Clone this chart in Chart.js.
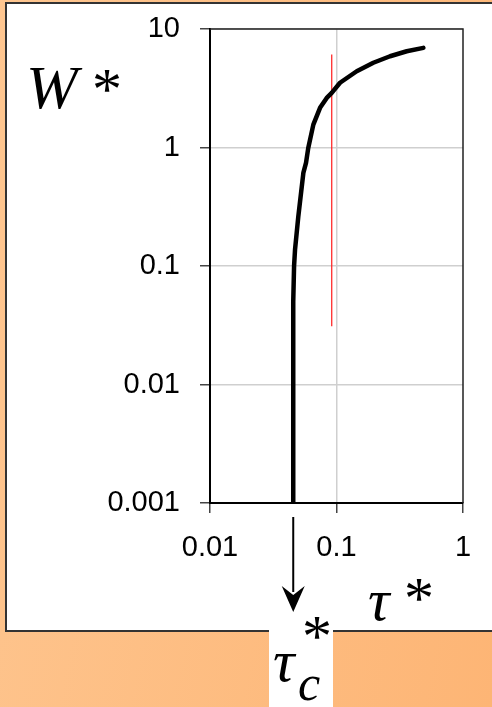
<!DOCTYPE html>
<html>
<head>
<meta charset="utf-8">
<script src="https://cdn.jsdelivr.net/npm/chart.js@4"></script>
<style>
  html, body { margin: 0; padding: 0; }
  body {
    width: 492px; height: 707px; overflow: hidden; position: relative;
    background: linear-gradient(100deg, #fec690 0%, #fdb575 100%);
  }
  #panel {
    position: absolute; left: 5px; top: 2px; width: 520px; height: 630px;
    background: #fff; border: 2px solid #333; box-sizing: border-box;
  }
  #tagbox { position: absolute; left: 269px; top: 600px; width: 64px; height: 107px; background: #fff; }
  #wrap { position: absolute; left: 0; top: 0; width: 492px; height: 707px; }
  .lbl { position: absolute; line-height: 1; font-family: "Liberation Serif", "Times New Roman", serif; color: #000; white-space: nowrap; }
  .it { font-style: italic; }
</style>
</head>
<body>
<div id="panel"></div>
<div id="tagbox"></div>
<div id="wrap"><canvas id="chart" width="492" height="707"></canvas></div>

<span class="lbl it" style="left:26px; top:56px; font-size:62px;">W</span>
<span class="lbl" style="left:92px; top:59px; font-size:60px;">*</span>

<span class="lbl it" style="left:368px; top:570px; font-size:60px;">τ</span>
<span class="lbl" style="left:404px; top:568px; font-size:60px;">*</span>

<span class="lbl it" style="left:273px; top:631px; font-size:60px;">τ</span>
<span class="lbl it" style="left:298px; top:658px; font-size:50px;">c</span>
<span class="lbl" style="left:302px; top:606px; font-size:60px;">*</span>

<script>
// transport curve
const tau = [0.0455, 0.0455, 0.0462, 0.047, 0.0499, 0.0547, 0.0574, 0.0598, 0.0656,
             0.0741, 0.0837, 0.0917, 0.1066, 0.1445, 0.1955, 0.265, 0.359, 0.486];
const W   = [0.001, 0.05, 0.1, 0.137, 0.262, 0.61, 0.741, 0.99, 1.56,
             2.16, 2.62, 2.89, 3.52, 4.40, 5.19, 5.89, 6.49, 6.93];

// red marker line
const markTau = [0.0917, 0.0917];
const markW = [0.031, 6.1];

// critical shear stress (arrow)
const tauC = 0.0455;

const xTicks = [0.01, 0.1, 1];
const xTickLabels = ["0.01", "0.1", "1"];
const yTicks = [0.001, 0.01, 0.1, 1, 10];
const yTickLabels = ["0.001", "0.01", "0.1", "1", "10"];

const tickFont = { family: "Liberation Sans, Arial, sans-serif", size: 29 };

const framePlugin = {
  id: "frame",
  afterDraw(chart) {
    const { ctx, chartArea: a } = chart;
    ctx.save();
    // top and right edges of the plot box
    ctx.strokeStyle = "#222";
    ctx.lineWidth = 1.5;
    ctx.beginPath();
    ctx.moveTo(a.left, a.top);
    ctx.lineTo(a.right, a.top);
    ctx.lineTo(a.right, a.bottom);
    ctx.stroke();
    // arrow down to tau_c
    const x = chart.scales.x.getPixelForValue(tauC);
    const y0 = a.bottom + 14, tip = a.bottom + 109;
    ctx.strokeStyle = "#000";
    ctx.lineWidth = 2;
    ctx.beginPath();
    ctx.moveTo(x, y0);
    ctx.lineTo(x, tip - 20);
    ctx.stroke();
    ctx.fillStyle = "#000";
    ctx.beginPath();
    ctx.moveTo(x - 11.5, tip - 26);
    ctx.lineTo(x, tip - 17);
    ctx.lineTo(x + 11.5, tip - 26);
    ctx.lineTo(x, tip);
    ctx.closePath();
    ctx.fill();
    ctx.restore();
  }
};

new Chart(document.getElementById("chart"), {
  type: "scatter",
  data: {
    datasets: [
      {
        data: tau.map((t, i) => ({ x: t, y: W[i] })),
        showLine: true,
        borderColor: "#000",
        borderWidth: 4.5,
        borderCapStyle: "round",
        borderJoinStyle: "round",
        pointRadius: 0,
        tension: 0,
      },
      {
        data: markTau.map((t, i) => ({ x: t, y: markW[i] })),
        showLine: true,
        borderColor: "#ff1a1a",
        borderWidth: 1.2,
        pointRadius: 0,
      },
    ],
  },
  options: {
    responsive: false,
    animation: false,
    devicePixelRatio: 1,
    layout: { padding: { left: 0, top: 29, right: 29, bottom: 144 } },
    plugins: { legend: { display: false }, tooltip: { enabled: false } },
    scales: {
      x: {
        type: "logarithmic",
        min: 0.01,
        max: 1,
        afterBuildTicks: (s) => { s.ticks = xTicks.map((v) => ({ value: v })); },
        afterFit: (s) => { s.height = 60; s.paddingLeft = 0; s.paddingRight = 0; },
        ticks: {
          font: tickFont,
          color: "#000",
          padding: 18,
          maxRotation: 0,
          autoSkip: false,
          callback: (v) => xTickLabels[xTicks.indexOf(v)],
        },
        grid: {
          color: (c) => (c.tick && c.tick.value === 0.1 ? "#cfcfcf" : "rgba(0,0,0,0)"),
          lineWidth: 1.5,
          tickColor: "#444",
          tickLength: 10,
        },
        border: { color: "#000", width: 2 },
      },
      y: {
        type: "logarithmic",
        min: 0.001,
        max: 10,
        afterBuildTicks: (s) => { s.ticks = yTicks.map((v) => ({ value: v })); },
        afterFit: (s) => { s.width = 210; s.paddingTop = 0; s.paddingBottom = 0; },
        ticks: {
          font: tickFont,
          color: "#000",
          padding: 20,
          autoSkip: false,
          callback: (v) => yTickLabels[yTicks.indexOf(v)],
        },
        grid: {
          color: "#cfcfcf",
          lineWidth: 1.5,
          tickColor: "#444",
          tickLength: 10,
        },
        border: { color: "#000", width: 2 },
      },
    },
  },
  plugins: [framePlugin],
});
</script>
</body>
</html>
